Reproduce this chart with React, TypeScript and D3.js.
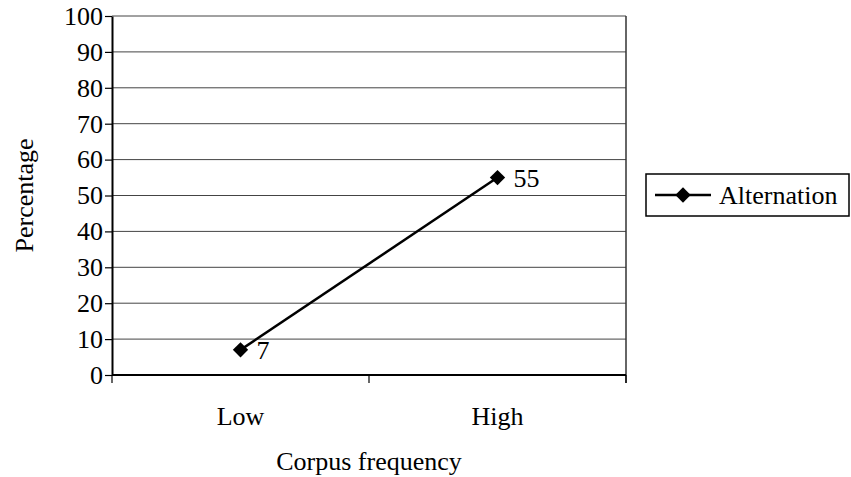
import * as React from "react";
import * as d3 from "d3";

const categories = ["Low", "High"];
const alternation = [7, 55];
const yTicks = [0, 10, 20, 30, 40, 50, 60, 70, 80, 90, 100];
const seriesName = "Alternation";

const font = "'Liberation Serif', 'Times New Roman', serif";
const fs = 26;

export default function App() {
  const ref = React.useRef<SVGSVGElement>(null);

  React.useEffect(() => {
    const svg = d3.select(ref.current);
    svg.selectAll("*").remove();

    const margin = {top: 16, left: 112, right: 626, bottom: 375};

    const x = d3.scaleBand<string>()
      .domain(categories)
      .range([margin.left, margin.right]);
    const y = d3.scaleLinear().domain([0, 100]).range([margin.bottom, margin.top]);

    // grid
    svg.append("g").selectAll("line")
      .data(yTicks.filter(d => d > 0))
      .enter().append("line")
      .attr("x1", margin.left).attr("x2", margin.right)
      .attr("y1", d => y(d)).attr("y2", d => y(d))
      .attr("stroke", "#444").attr("stroke-width", 1);

    // right border
    svg.append("line")
      .attr("x1", margin.right).attr("x2", margin.right)
      .attr("y1", margin.top).attr("y2", margin.bottom + 8)
      .attr("stroke", "#333").attr("stroke-width", 1.5);

    // y axis
    const yAxis = svg.append("g")
      .attr("transform", `translate(${margin.left},0)`)
      .call(d3.axisLeft(y).tickValues(yTicks).tickSize(7).tickSizeOuter(0).tickPadding(2));
    yAxis.select(".domain").attr("stroke", "#000").attr("stroke-width", 2);
    yAxis.selectAll(".tick line").attr("stroke", "#000").attr("stroke-width", 1.2);
    yAxis.selectAll("text").attr("font-family", font).attr("font-size", fs).attr("fill", "#000");

    // x axis
    const xAxisG = svg.append("g").attr("transform", `translate(0,${margin.bottom})`);
    xAxisG.append("line")
      .attr("x1", margin.left).attr("x2", margin.right)
      .attr("stroke", "#000").attr("stroke-width", 2);
    const edges = [margin.left, ...categories.map(c => (x(c) as number) + x.bandwidth())];
    xAxisG.selectAll(".edge").data(edges).enter().append("line")
      .attr("x1", d => d).attr("x2", d => d)
      .attr("y1", 0).attr("y2", 8)
      .attr("stroke", "#000").attr("stroke-width", 1.2);
    xAxisG.selectAll("text").data(categories).enter().append("text")
      .attr("x", d => (x(d) as number) + x.bandwidth() / 2)
      .attr("y", 50)
      .attr("text-anchor", "middle")
      .attr("font-family", font).attr("font-size", fs)
      .text(d => d);

    // axis titles
    svg.append("text")
      .attr("transform", `translate(33,${(margin.top + margin.bottom) / 2}) rotate(-90)`)
      .attr("text-anchor", "middle")
      .attr("font-family", font).attr("font-size", fs)
      .text("Percentage");
    svg.append("text")
      .attr("x", (margin.left + margin.right) / 2)
      .attr("y", 470)
      .attr("text-anchor", "middle")
      .attr("font-family", font).attr("font-size", fs)
      .text("Corpus frequency");

    // series line
    const pts = categories.map((c, i) => ({
      cx: (x(c) as number) + x.bandwidth() / 2,
      v: alternation[i],
    }));
    const line = d3.line<{cx: number, v: number}>().x(d => d.cx).y(d => y(d.v));
    svg.append("path")
      .attr("d", line(pts))
      .attr("fill", "none").attr("stroke", "#000").attr("stroke-width", 2.5);

    const diamond = d3.symbol().type(d3.symbolDiamond2).size(150);
    svg.selectAll(".pt").data(pts).enter().append("path")
      .attr("transform", d => `translate(${d.cx},${y(d.v)})`)
      .attr("d", diamond())
      .attr("fill", "#000");

    svg.selectAll(".lbl").data(pts).enter().append("text")
      .attr("x", d => d.cx + 16)
      .attr("y", d => y(d.v) + 9)
      .attr("font-family", font).attr("font-size", fs)
      .text(d => d.v);

    // legend
    const lg = svg.append("g").attr("transform", "translate(646,174)");
    lg.append("rect")
      .attr("width", 203).attr("height", 42)
      .attr("fill", "#fff").attr("stroke", "#000").attr("stroke-width", 1.5);
    lg.append("line")
      .attr("x1", 9).attr("x2", 65).attr("y1", 21).attr("y2", 21)
      .attr("stroke", "#000").attr("stroke-width", 2.5);
    lg.append("path")
      .attr("transform", "translate(37,21)")
      .attr("d", diamond())
      .attr("fill", "#000");
    lg.append("text")
      .attr("x", 73).attr("y", 30)
      .attr("font-family", font).attr("font-size", fs)
      .text(seriesName);
  }, []);

  return (
    <svg ref={ref} width={851} height={477}
      style={{position: "absolute", left: 0, top: 0, background: "#fff"}} />
  );
}
